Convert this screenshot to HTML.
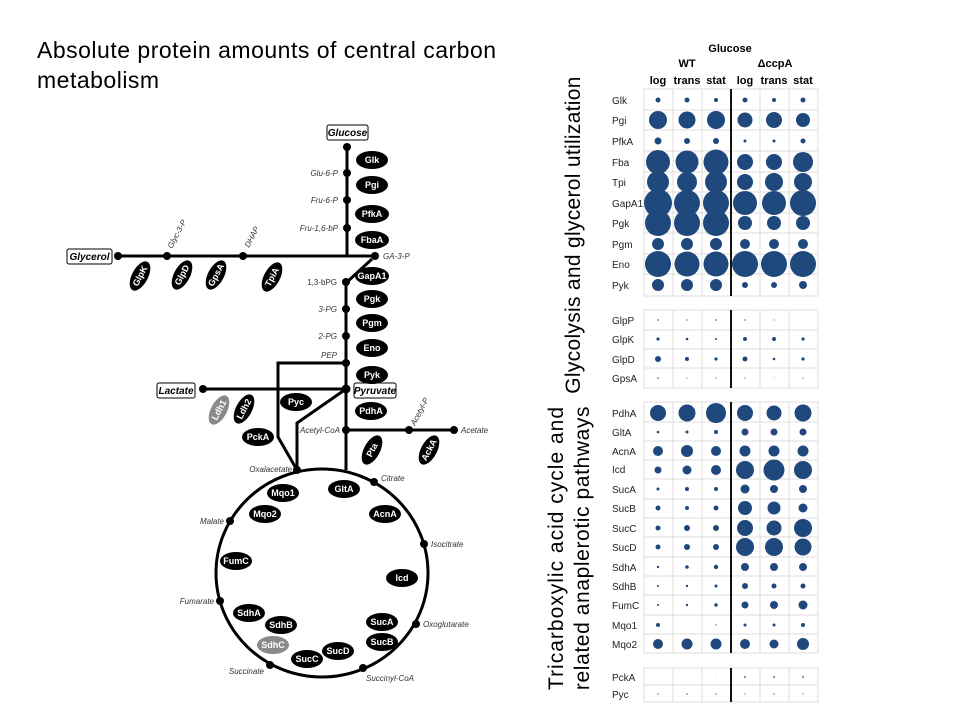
<!DOCTYPE html>
<html><head><meta charset="utf-8"><style>
body{margin:0;background:#fff;width:960px;height:720px;overflow:hidden}
svg{display:block;font-family:"Liberation Sans",sans-serif}
.e{fill:#000}.et{fill:#fff;font-weight:bold;font-size:9px;text-anchor:middle;dominant-baseline:central}
.l{font-style:italic;font-size:8px;fill:#333}
.g{fill:#1f497d}
.rl{font-size:10px;fill:#222}
</style></head><body>
<svg width="960" height="720" viewBox="0 0 960 720">
<text x="37" y="58" font-size="23" letter-spacing="0.5" fill="#000">Absolute protein amounts of central carbon</text>
<text x="37" y="88" font-size="23" letter-spacing="0.5" fill="#000">metabolism</text>

<g stroke="#000" stroke-width="3" fill="none">
<line x1="347" y1="147" x2="347" y2="256"/>
<line x1="118" y1="256" x2="375" y2="256"/>
<line x1="372" y1="259" x2="347" y2="282"/>
<line x1="346" y1="282" x2="346" y2="470"/>
<line x1="203" y1="389" x2="346" y2="389"/>
<polyline points="346,363 278,363 278,437 297,470"/>
<polyline points="346,389 297,423 297,470"/>
<line x1="346" y1="430" x2="454" y2="430"/>
<ellipse cx="322" cy="573" rx="106" ry="104"/>
</g>
<g fill="#000">
<circle cx="347" cy="147" r="4"/><circle cx="347" cy="173" r="4"/><circle cx="347" cy="200" r="4"/><circle cx="347" cy="228" r="4"/>
<circle cx="118" cy="256" r="4"/><circle cx="167" cy="256" r="4"/><circle cx="243" cy="256" r="4"/><circle cx="375" cy="256" r="4"/>
<circle cx="346" cy="282" r="4"/><circle cx="346" cy="309" r="4"/><circle cx="346" cy="336" r="4"/><circle cx="346" cy="363" r="4"/><circle cx="346" cy="389" r="4.5"/>
<circle cx="203" cy="389" r="4"/><circle cx="346" cy="430" r="4"/><circle cx="409" cy="430" r="4"/><circle cx="454" cy="430" r="4"/>
<circle cx="297" cy="470" r="4"/><circle cx="374" cy="482" r="4"/><circle cx="424" cy="544" r="4"/><circle cx="416" cy="624" r="4"/>
<circle cx="363" cy="668" r="4"/><circle cx="270" cy="665" r="4"/><circle cx="220" cy="601" r="4"/><circle cx="230" cy="521" r="4"/>
</g>
<g font-weight="bold" font-style="italic" font-size="10">
<rect x="327" y="125" width="41" height="15" rx="2" fill="#fff" stroke="#000"/><text x="347.5" y="136" text-anchor="middle">Glucose</text>
<rect x="67" y="249" width="45" height="15" rx="2" fill="#fff" stroke="#000"/><text x="89.5" y="260" text-anchor="middle">Glycerol</text>
<rect x="157" y="383" width="38" height="15" rx="2" fill="#fff" stroke="#000"/><text x="176" y="394" text-anchor="middle">Lactate</text>
<rect x="354" y="383" width="42" height="15" rx="2" fill="#fff" stroke="#000"/><text x="375" y="394" text-anchor="middle">Pyruvate</text>
</g>
<g class="l" text-anchor="end">
<text x="338" y="176">Glu-6-P</text><text x="338" y="203">Fru-6-P</text><text x="338" y="231">Fru-1,6-bP</text>
<text x="337" y="285" font-style="normal">1,3-bPG</text><text x="337" y="312">3-PG</text><text x="337" y="339">2-PG</text><text x="337" y="358">PEP</text>
<text x="340" y="433">Acetyl-CoA</text><text x="292" y="472">Oxalacetate</text><text x="224" y="524">Malate</text>
<text x="214" y="604">Fumarate</text><text x="264" y="674">Succinate</text>
</g>
<g class="l">
<text x="383" y="259">GA-3-P</text><text x="461" y="433">Acetate</text><text x="381" y="481">Citrate</text>
<text x="431" y="547">Isocitrate</text><text x="423" y="627">Oxoglutarate</text><text x="366" y="681">Succinyl-CoA</text>
<text transform="translate(172,249) rotate(-62)">Glyc-3-P</text>
<text transform="translate(249,248) rotate(-62)">DHAP</text>
<text transform="translate(415,426) rotate(-62)">Acetyl-P</text>
</g>
<g>
<g transform="translate(372,160)"><ellipse class="e" rx="16" ry="9"/><text class="et">Glk</text></g>
<g transform="translate(372,185)"><ellipse class="e" rx="16" ry="9"/><text class="et">Pgi</text></g>
<g transform="translate(372,214)"><ellipse class="e" rx="17" ry="9"/><text class="et">PfkA</text></g>
<g transform="translate(372,240)"><ellipse class="e" rx="17" ry="9"/><text class="et">FbaA</text></g>
<g transform="translate(372,276)"><ellipse class="e" rx="17" ry="9"/><text class="et">GapA1</text></g>
<g transform="translate(372,299)"><ellipse class="e" rx="16" ry="9"/><text class="et">Pgk</text></g>
<g transform="translate(372,323)"><ellipse class="e" rx="16" ry="9"/><text class="et">Pgm</text></g>
<g transform="translate(372,348)"><ellipse class="e" rx="16" ry="9"/><text class="et">Eno</text></g>
<g transform="translate(372,375)"><ellipse class="e" rx="16" ry="9"/><text class="et">Pyk</text></g>
<g transform="translate(371,411)"><ellipse class="e" rx="16" ry="9"/><text class="et">PdhA</text></g>
<g transform="translate(296,402)"><ellipse class="e" rx="16" ry="9"/><text class="et">Pyc</text></g>
<g transform="translate(258,437)"><ellipse class="e" rx="16" ry="9"/><text class="et">PckA</text></g>
<g transform="translate(219,410) rotate(-62)"><ellipse rx="16" ry="8" fill="#8a8a8a"/><text class="et">Ldh1</text></g>
<g transform="translate(244,409) rotate(-62)"><ellipse class="e" rx="16" ry="8"/><text class="et">Ldh2</text></g>
<g transform="translate(140,276) rotate(-62)"><ellipse class="e" rx="16" ry="8"/><text class="et">GlpK</text></g>
<g transform="translate(182,275) rotate(-62)"><ellipse class="e" rx="16" ry="8"/><text class="et">GlpD</text></g>
<g transform="translate(216,275) rotate(-62)"><ellipse class="e" rx="16" ry="8"/><text class="et">GpsA</text></g>
<g transform="translate(272,277) rotate(-62)"><ellipse class="e" rx="16" ry="8"/><text class="et">TpiA</text></g>
<g transform="translate(372,450) rotate(-62)"><ellipse class="e" rx="16" ry="8"/><text class="et">Pta</text></g>
<g transform="translate(429,450) rotate(-62)"><ellipse class="e" rx="16" ry="8"/><text class="et">AckA</text></g>
<g transform="translate(344,489)"><ellipse class="e" rx="16" ry="9"/><text class="et">GltA</text></g>
<g transform="translate(283,493)"><ellipse class="e" rx="16" ry="9"/><text class="et">Mqo1</text></g>
<g transform="translate(265,514)"><ellipse class="e" rx="16" ry="9"/><text class="et">Mqo2</text></g>
<g transform="translate(385,514)"><ellipse class="e" rx="16" ry="9"/><text class="et">AcnA</text></g>
<g transform="translate(236,561)"><ellipse class="e" rx="16" ry="9"/><text class="et">FumC</text></g>
<g transform="translate(402,578)"><ellipse class="e" rx="16" ry="9"/><text class="et">Icd</text></g>
<g transform="translate(249,613)"><ellipse class="e" rx="16" ry="9"/><text class="et">SdhA</text></g>
<g transform="translate(281,625)"><ellipse class="e" rx="16" ry="9"/><text class="et">SdhB</text></g>
<g transform="translate(273,645)"><ellipse rx="16" ry="9" fill="#8a8a8a"/><text class="et">SdhC</text></g>
<g transform="translate(382,622)"><ellipse class="e" rx="16" ry="9"/><text class="et">SucA</text></g>
<g transform="translate(382,642)"><ellipse class="e" rx="16" ry="9"/><text class="et">SucB</text></g>
<g transform="translate(338,651)"><ellipse class="e" rx="16" ry="9"/><text class="et">SucD</text></g>
<g transform="translate(307,659)"><ellipse class="e" rx="16" ry="9"/><text class="et">SucC</text></g>
</g>

<text transform="translate(580,235) rotate(-90)" font-size="21" letter-spacing="0.3" text-anchor="middle" fill="#000">Glycolysis and glycerol utilization</text>
<text transform="translate(563,548) rotate(-90)" font-size="21" letter-spacing="1" text-anchor="middle" fill="#000">Tricarboxylic acid cycle and</text>
<text transform="translate(589,548) rotate(-90)" font-size="21" letter-spacing="0.6" text-anchor="middle" fill="#000">related anaplerotic pathways</text>

<g font-weight="bold" font-size="11" text-anchor="middle" fill="#000">
<text x="730" y="52">Glucose</text><text x="687" y="67">WT</text><text x="775" y="67">ΔccpA</text>
<text x="658" y="84">log</text><text x="687" y="84">trans</text><text x="716" y="84">stat</text>
<text x="745" y="84">log</text><text x="774" y="84">trans</text><text x="803" y="84">stat</text>
</g>

<g stroke="#dcdcdc" stroke-width="1" fill="none">
<rect x="644" y="89" width="174" height="207"/>
<rect x="644" y="310" width="174" height="78"/>
<rect x="644" y="402" width="174" height="251"/>
<rect x="644" y="668" width="174" height="34"/>
<path d="M673 89V296M702 89V296M760 89V296M789 89V296M673 310V388M702 310V388M760 310V388M789 310V388M673 402V653M702 402V653M760 402V653M789 402V653M673 668V702M702 668V702M760 668V702M789 668V702"/>
<path d="M644 110H818M644 130H818M644 151H818M644 172H818M644 192H818M644 213H818M644 233H818M644 254H818M644 274H818M644 330H818M644 349H818M644 368H818M644 422H818M644 441H818M644 460H818M644 479H818M644 499H818M644 518H818M644 537H818M644 557H818M644 576H818M644 595H818M644 615H818M644 634H818M644 685H818"/>
</g>
<g stroke="#111" stroke-width="2">
<line x1="731" y1="89" x2="731" y2="296"/><line x1="731" y1="310" x2="731" y2="388"/>
<line x1="731" y1="402" x2="731" y2="653"/><line x1="731" y1="668" x2="731" y2="702"/>
</g>

<g class="rl">
<text x="612" y="104">Glk</text><text x="612" y="124">Pgi</text><text x="612" y="145">PfkA</text><text x="612" y="166">Fba</text><text x="612" y="186">Tpi</text><text x="612" y="207">GapA1</text><text x="612" y="227">Pgk</text><text x="612" y="248">Pgm</text><text x="612" y="268">Eno</text><text x="612" y="289">Pyk</text>
<text x="612" y="324">GlpP</text><text x="612" y="343">GlpK</text><text x="612" y="363">GlpD</text><text x="612" y="382">GpsA</text>
<text x="612" y="417">PdhA</text><text x="612" y="436">GltA</text><text x="612" y="455">AcnA</text><text x="612" y="473">Icd</text><text x="612" y="493">SucA</text><text x="612" y="512">SucB</text><text x="612" y="532">SucC</text><text x="612" y="551">SucD</text><text x="612" y="571">SdhA</text><text x="612" y="590">SdhB</text><text x="612" y="609">FumC</text><text x="612" y="629">Mqo1</text><text x="612" y="648">Mqo2</text>
<text x="612" y="681">PckA</text><text x="612" y="698">Pyc</text>
</g>

<g class="g">
<circle cx="658" cy="100" r="2.5"/><circle cx="687" cy="100" r="2.5"/><circle cx="716" cy="100" r="2"/><circle cx="745" cy="100" r="2.5"/><circle cx="774" cy="100" r="2"/><circle cx="803" cy="100" r="2.5"/>
<circle cx="658" cy="120" r="9"/><circle cx="687" cy="120" r="8.5"/><circle cx="716" cy="120" r="9"/><circle cx="745" cy="120" r="7.5"/><circle cx="774" cy="120" r="8"/><circle cx="803" cy="120" r="7"/>
<circle cx="658" cy="141" r="3.5"/><circle cx="687" cy="141" r="3"/><circle cx="716" cy="141" r="3"/><circle cx="745" cy="141" r="1.5"/><circle cx="774" cy="141" r="1.5"/><circle cx="803" cy="141" r="2.5"/>
<circle cx="658" cy="162" r="12"/><circle cx="687" cy="162" r="11.5"/><circle cx="716" cy="162" r="12.5"/><circle cx="745" cy="162" r="8"/><circle cx="774" cy="162" r="8"/><circle cx="803" cy="162" r="10"/>
<circle cx="658" cy="182" r="11"/><circle cx="687" cy="182" r="10"/><circle cx="716" cy="182" r="11"/><circle cx="745" cy="182" r="8"/><circle cx="774" cy="182" r="9"/><circle cx="803" cy="182" r="9"/>
<circle cx="658" cy="203" r="14"/><circle cx="687" cy="203" r="13"/><circle cx="716" cy="203" r="13"/><circle cx="745" cy="203" r="12"/><circle cx="774" cy="203" r="12"/><circle cx="803" cy="203" r="13"/>
<circle cx="658" cy="223" r="13"/><circle cx="687" cy="223" r="13"/><circle cx="716" cy="223" r="13"/><circle cx="745" cy="223" r="7"/><circle cx="774" cy="223" r="7"/><circle cx="803" cy="223" r="7"/>
<circle cx="658" cy="244" r="6"/><circle cx="687" cy="244" r="6"/><circle cx="716" cy="244" r="6"/><circle cx="745" cy="244" r="5"/><circle cx="774" cy="244" r="5"/><circle cx="803" cy="244" r="5"/>
<circle cx="658" cy="264" r="13"/><circle cx="687" cy="264" r="12.5"/><circle cx="716" cy="264" r="12.5"/><circle cx="745" cy="264" r="13"/><circle cx="774" cy="264" r="13"/><circle cx="803" cy="264" r="13"/>
<circle cx="658" cy="285" r="6"/><circle cx="687" cy="285" r="6"/><circle cx="716" cy="285" r="6"/><circle cx="745" cy="285" r="3"/><circle cx="774" cy="285" r="3"/><circle cx="803" cy="285" r="4"/>
<g fill="#7a9cc8"><circle cx="658" cy="320" r="1"/><circle cx="687" cy="320" r="0.9"/><circle cx="716" cy="320" r="1"/><circle cx="745" cy="320" r="1"/><circle cx="774" cy="320" r="0.7"/><circle cx="803" cy="320" r="0.5"/></g>
<circle cx="658" cy="339" r="1.6"/><circle cx="687" cy="339" r="1.3"/><circle cx="716" cy="339" r="1"/><circle cx="745" cy="339" r="2"/><circle cx="774" cy="339" r="2"/><circle cx="803" cy="339" r="1.6"/>
<circle cx="658" cy="359" r="3"/><circle cx="687" cy="359" r="2"/><circle cx="716" cy="359" r="1.6"/><circle cx="745" cy="359" r="2.5"/><circle cx="774" cy="359" r="1.3"/><circle cx="803" cy="359" r="1.6"/>
<g fill="#7a9cc8"><circle cx="658" cy="378" r="1"/><circle cx="687" cy="378" r="0.7"/><circle cx="716" cy="378" r="0.8"/><circle cx="745" cy="378" r="0.8"/><circle cx="774" cy="378" r="0.5"/><circle cx="803" cy="378" r="0.8"/></g>
<circle cx="658" cy="413" r="8"/><circle cx="687" cy="413" r="8.5"/><circle cx="716" cy="413" r="10"/><circle cx="745" cy="413" r="8"/><circle cx="774" cy="413" r="7.5"/><circle cx="803" cy="413" r="8.5"/>
<circle cx="658" cy="432" r="1.3"/><circle cx="687" cy="432" r="1.5"/><circle cx="716" cy="432" r="2"/><circle cx="745" cy="432" r="3.5"/><circle cx="774" cy="432" r="3.5"/><circle cx="803" cy="432" r="3.5"/>
<circle cx="658" cy="451" r="5"/><circle cx="687" cy="451" r="6"/><circle cx="716" cy="451" r="5"/><circle cx="745" cy="451" r="5.5"/><circle cx="774" cy="451" r="5.5"/><circle cx="803" cy="451" r="5.5"/>
<circle cx="658" cy="470" r="3.5"/><circle cx="687" cy="470" r="4.5"/><circle cx="716" cy="470" r="5"/><circle cx="745" cy="470" r="9"/><circle cx="774" cy="470" r="10.5"/><circle cx="803" cy="470" r="9"/>
<circle cx="658" cy="489" r="1.5"/><circle cx="687" cy="489" r="2"/><circle cx="716" cy="489" r="2"/><circle cx="745" cy="489" r="4.5"/><circle cx="774" cy="489" r="4"/><circle cx="803" cy="489" r="4"/>
<circle cx="658" cy="508" r="2.5"/><circle cx="687" cy="508" r="2"/><circle cx="716" cy="508" r="2.5"/><circle cx="745" cy="508" r="7"/><circle cx="774" cy="508" r="6.5"/><circle cx="803" cy="508" r="4.5"/>
<circle cx="658" cy="528" r="2.5"/><circle cx="687" cy="528" r="3"/><circle cx="716" cy="528" r="3"/><circle cx="745" cy="528" r="8"/><circle cx="774" cy="528" r="7.5"/><circle cx="803" cy="528" r="9"/>
<circle cx="658" cy="547" r="2.5"/><circle cx="687" cy="547" r="3"/><circle cx="716" cy="547" r="3"/><circle cx="745" cy="547" r="9"/><circle cx="774" cy="547" r="9"/><circle cx="803" cy="547" r="8.5"/>
<circle cx="658" cy="567" r="1.2"/><circle cx="687" cy="567" r="1.8"/><circle cx="716" cy="567" r="2.2"/><circle cx="745" cy="567" r="4"/><circle cx="774" cy="567" r="4"/><circle cx="803" cy="567" r="4"/>
<circle cx="658" cy="586" r="1"/><circle cx="687" cy="586" r="1.2"/><circle cx="716" cy="586" r="1.5"/><circle cx="745" cy="586" r="3"/><circle cx="774" cy="586" r="2.5"/><circle cx="803" cy="586" r="2.5"/>
<circle cx="658" cy="605" r="1"/><circle cx="687" cy="605" r="1.2"/><circle cx="716" cy="605" r="1.7"/><circle cx="745" cy="605" r="3.5"/><circle cx="774" cy="605" r="4"/><circle cx="803" cy="605" r="4.5"/>
<circle cx="658" cy="625" r="2"/><circle cx="716" cy="625" r="0.6"/><circle cx="745" cy="625" r="1.5"/><circle cx="774" cy="625" r="1.5"/><circle cx="803" cy="625" r="2"/>
<circle cx="658" cy="644" r="5"/><circle cx="687" cy="644" r="5.5"/><circle cx="716" cy="644" r="5.5"/><circle cx="745" cy="644" r="5"/><circle cx="774" cy="644" r="4.5"/><circle cx="803" cy="644" r="6"/>
<g fill="#6a8fc0"><circle cx="716" cy="677" r="0.4"/><circle cx="745" cy="677" r="1.1"/><circle cx="774" cy="677" r="1.1"/><circle cx="803" cy="677" r="1.1"/>
<circle cx="658" cy="694" r="0.9"/><circle cx="687" cy="694" r="0.9"/><circle cx="716" cy="694" r="0.9"/><circle cx="745" cy="694" r="0.7"/><circle cx="774" cy="694" r="0.9"/><circle cx="803" cy="694" r="0.7"/></g>
</g>
</svg>
</body></html>
